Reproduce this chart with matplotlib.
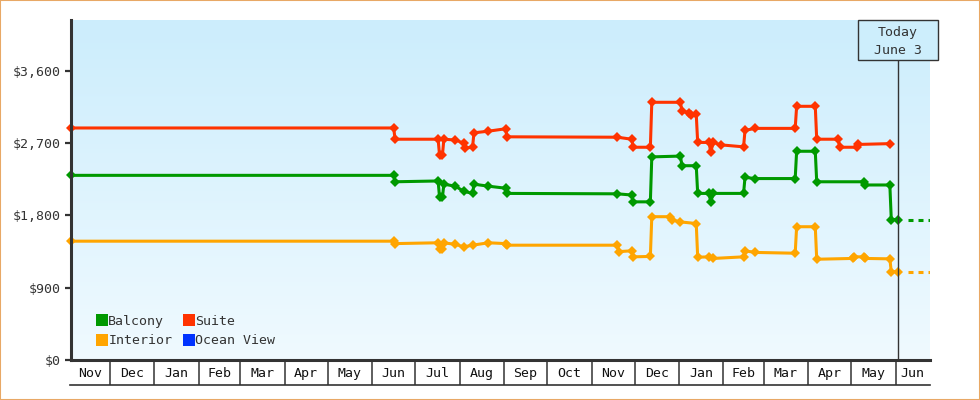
import matplotlib
matplotlib.use('Agg')
import matplotlib.pyplot as plt
from matplotlib.lines import Line2D
from matplotlib.patches import Rectangle
import matplotlib.transforms as mtransforms
import numpy as np
import pandas as pd

# price history (date, price) per cabin type
suite_dates = ['2023-11-04', '2024-06-16', '2024-06-17', '2024-07-17', '2024-07-18', '2024-07-20',
               '2024-07-21', '2024-07-29', '2024-08-04', '2024-08-05', '2024-08-10', '2024-08-11',
               '2024-08-21', '2024-09-02', '2024-09-03', '2024-11-19', '2024-11-29', '2024-11-30',
               '2024-12-12', '2024-12-13', '2025-01-02', '2025-01-03', '2025-01-08', '2025-01-09',
               '2025-01-13', '2025-01-14', '2025-01-22', '2025-01-23', '2025-01-25', '2025-01-30',
               '2025-02-15', '2025-02-16', '2025-02-23', '2025-03-23', '2025-03-24', '2025-04-06',
               '2025-04-07', '2025-04-22', '2025-04-23', '2025-05-05', '2025-05-06', '2025-05-28']
suite_prices = [2890, 2890, 2750, 2750, 2550, 2550,
                2750, 2740, 2700, 2640, 2650, 2830,
                2850, 2880, 2780, 2775, 2750, 2650,
                2650, 3210, 3210, 3100, 3080, 3050,
                3060, 2710, 2710, 2590, 2710, 2680,
                2655, 2860, 2885, 2885, 3160, 3160,
                2750, 2750, 2650, 2650, 2685, 2695]

balcony_dates = ['2023-11-04', '2024-06-16', '2024-06-17', '2024-07-17', '2024-07-18', '2024-07-20',
                 '2024-07-21', '2024-07-29', '2024-08-04', '2024-08-10', '2024-08-11', '2024-08-21',
                 '2024-09-02', '2024-09-03', '2024-11-19', '2024-11-29', '2024-11-30', '2024-12-12',
                 '2024-12-13', '2025-01-02', '2025-01-03', '2025-01-13', '2025-01-14', '2025-01-22',
                 '2025-01-23', '2025-01-25', '2025-02-15', '2025-02-16', '2025-02-23', '2025-03-23',
                 '2025-03-24', '2025-04-06', '2025-04-07', '2025-05-10', '2025-05-11', '2025-05-28',
                 '2025-05-29', '2025-06-03']
balcony_prices = [2300, 2300, 2220, 2230, 2025, 2025,
                  2190, 2165, 2100, 2075, 2190, 2165,
                  2140, 2075, 2070, 2055, 1970, 1970,
                  2530, 2540, 2420, 2420, 2075, 2075,
                  1970, 2075, 2075, 2275, 2260, 2260,
                  2600, 2600, 2220, 2220, 2180, 2180,
                  1750, 1750]

interior_dates = ['2023-11-04', '2024-06-16', '2024-06-17', '2024-07-17', '2024-07-18', '2024-07-20',
                  '2024-07-21', '2024-07-29', '2024-08-04', '2024-08-10', '2024-08-21', '2024-09-02',
                  '2024-09-03', '2024-11-19', '2024-11-20', '2024-11-29', '2024-11-30', '2024-12-12',
                  '2024-12-13', '2024-12-26', '2024-12-27', '2025-01-02', '2025-01-13', '2025-01-14',
                  '2025-01-22', '2025-01-25', '2025-02-15', '2025-02-16', '2025-02-23', '2025-03-23',
                  '2025-03-24', '2025-04-06', '2025-04-07', '2025-05-02', '2025-05-03', '2025-05-10',
                  '2025-05-11', '2025-05-28', '2025-05-29', '2025-06-03']
interior_prices = [1480, 1480, 1450, 1460, 1380, 1380,
                   1460, 1440, 1410, 1430, 1460, 1450,
                   1430, 1430, 1350, 1360, 1285, 1290,
                   1785, 1785, 1745, 1720, 1700, 1280,
                   1285, 1265, 1285, 1360, 1340, 1330,
                   1660, 1660, 1255, 1265, 1285, 1285,
                   1265, 1260, 1100, 1100]

series_names = ['Balcony', 'Interior', 'Suite', 'Ocean View']
series_colors = ['#009900', '#ffa500', '#ff3300', '#0033ff']

y_ticks = [0, 900, 1800, 2700, 3600]
x_start, x_end = '2023-11-04', '2025-06-25'
today = '2025-06-03'
today_label = 'Today\nJune 3'

plt.rcParams['font.family'] = 'DejaVu Sans Mono'
plt.rcParams['lines.scale_dashes'] = False
text_color = '#333333'

fig = plt.figure(figsize=(9.8, 4), dpi=100)
ax = fig.add_axes([71 / 980, 40 / 400, 859 / 980, 340 / 400])

# gradient background
grad = np.linspace(0, 1, 256)[:, None]
top = np.array([0.80, 0.93, 0.99])
bottom = np.array([0.94, 0.98, 1.0])
img = top + (bottom - top) * grad[:, :, None]
ax.imshow(img, extent=[0, 1, 0, 1], transform=ax.transAxes, aspect='auto', zorder=0)

# price lines
data = {
    'Balcony': (balcony_dates, balcony_prices),
    'Interior': (interior_dates, interior_prices),
    'Suite': (suite_dates, suite_prices),
}
today_dt = pd.to_datetime(today)
end_dt = pd.to_datetime(x_end)
for name, color in zip(series_names, series_colors):
    if name not in data:
        continue
    d, p = data[name]
    d = pd.to_datetime(d)
    ax.plot(d, p, color=color, lw=2.2, marker='D', ms=5.4, mew=0, zorder=3, clip_on=False)
    if d[-1] == today_dt:
        # projection past today
        ax.plot([today_dt + pd.Timedelta(days=3), end_dt], [p[-1], p[-1]], color=color, lw=2.2,
                linestyle=(3.6, (3.6, 3.6)), zorder=3)

ax.set_xlim(pd.to_datetime(x_start), end_dt)
ax.set_ylim(0, 4235)

# axes styling
for s in ['top', 'right']:
    ax.spines[s].set_visible(False)
for s in ['left', 'bottom']:
    ax.spines[s].set_color(text_color)
    ax.spines[s].set_linewidth(2.2)
    ax.spines[s].set_zorder(5)

ax.set_yticks(y_ticks)
ax.set_yticklabels(['${:,}'.format(v) for v in y_ticks])
ax.tick_params(axis='y', length=4.5, width=1.6, color=text_color, labelsize=9.5,
               labelcolor=text_color, pad=3)

# month cells below axis
bounds = pd.date_range('2023-12-01', '2025-06-01', freq='MS')
edges = [pd.to_datetime(x_start)] + list(bounds) + [end_dt]
mids = [a + (b - a) / 2 for a, b in zip(edges[:-1], edges[1:])]
ax.set_xticks(bounds)
ax.set_xticklabels([])
ax.set_xticks(mids, minor=True)
ax.set_xticklabels([m.strftime('%b') for m in mids], minor=True)
ax.tick_params(axis='x', which='major', length=18, width=1.1, color=text_color)
ax.tick_params(axis='x', which='minor', length=0, pad=5, labelsize=9.5, labelcolor='#111111')
fig.add_artist(Line2D([70 / 980, 930 / 980], [15 / 400, 15 / 400], color=text_color, lw=1.2))

# today marker
box_h = 40 / 340
blend = mtransforms.blended_transform_factory(ax.transData, ax.transAxes)
ax.axvline(today_dt, ymin=0, ymax=1 - box_h, color=text_color, lw=1, zorder=4)
ax.add_patch(Rectangle((today_dt - pd.Timedelta(days=28.5), 1 - box_h), pd.Timedelta(days=55.8), box_h,
                       transform=blend, facecolor='#cdeefc', edgecolor=text_color, lw=1,
                       clip_on=False, zorder=6))
ax.text(today_dt - pd.Timedelta(days=0.5), 1 - box_h / 2 - 0.004, today_label, transform=blend,
        ha='center', va='center', fontsize=9.5, color=text_color, linespacing=1.45, zorder=7)

# legend
handles = [Line2D([], [], color=c, marker='s', ms=8, lw=0, mew=0) for c in series_colors]
ax.legend(handles, series_names, ncol=2, loc='lower left', bbox_to_anchor=(0.022, 0.018),
          frameon=False, handlelength=0.8, handletextpad=0.1, columnspacing=0.85,
          labelspacing=0.5, borderpad=0, fontsize=9.5, labelcolor=text_color)

# outer border
fig.add_artist(Rectangle((0, 0), 1, 1, transform=fig.transFigure, fill=False,
                         edgecolor='#e8a865', lw=1.5))

fig.savefig('out.png', dpi=100)
